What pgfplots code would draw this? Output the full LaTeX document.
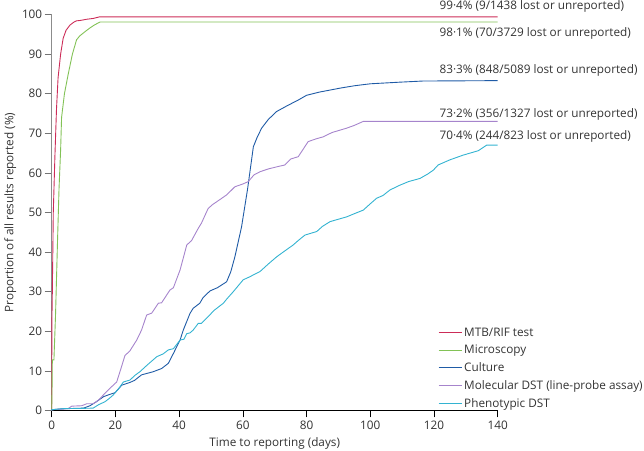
\documentclass[border=0pt]{standalone}
\usepackage{pgfplots}
\pgfplotsset{compat=1.18}
\usepackage{fontspec}
\setmainfont{Open Sans}
\definecolor{cmtb}{HTML}{CC2C58}
\definecolor{cmic}{HTML}{82C256}
\definecolor{ccul}{HTML}{1F5BA6}
\definecolor{cmol}{HTML}{A684CC}
\definecolor{cphe}{HTML}{33B3D1}
\definecolor{txt}{HTML}{333333}
\newcommand\fs{\fontsize{11.8}{14}\selectfont}
\begin{document}
\begin{tikzpicture}
\begin{axis}[
  scale only axis,
  width=446bp, height=396bp,
  xmin=0, xmax=140, ymin=0, ymax=100,
  xtick={0,20,...,140}, ytick={0,10,...,100},
  axis x line*=bottom, axis y line*=left,
  x axis line style={-, black, line width=0.7pt},
  y axis line style={-, gray!90, line width=1.6pt},
  tick align=outside, major tick length=7bp,
  xtick style={black, line width=0.6pt},
  ytick style={gray!90!black, line width=0.6pt},
  minor tick num=0,
  tick label style={font=\fs, text=txt},
  yticklabel style={xshift=1bp},
  /pgf/number format/assume math mode=true,
  xlabel={Time to reporting (days)},
  ylabel={Proportion of all results reported (\%)},
  label style={font=\fs, text=txt},
  xlabel style={yshift=-1pt},
  ylabel style={yshift=-1pt},
  clip=false,
  every axis plot/.append style={line width=0.9pt, no marks},
  legend style={at={(axis cs:120.3,21.9)}, anchor=north west, draw=none, fill=none,
    font=\fs, text=txt, row sep=3.4pt},
  legend cell align=left,
  legend image code/.code={\draw[#1, line width=1.1pt] (0bp,0bp) -- (23bp,0bp);},
]
\addplot[cmtb] coordinates {(0,0) (0.05,22) (0.2,30) (0.5,50) (1,64) (1.5,76) (2,84) (2.8,90) (3.6,94) (4.5,96) (5.7,97.3) (7,98.1) (7.8,98.4) (9,98.5) (11,98.8) (13,99.0) (15,99.4) (140,99.4)};
\addlegendentry{MTB/RIF test}
\addplot[cmic] coordinates {(0,0) (0.1,5) (0.2,12.8) (0.7,12.8) (1.2,24) (1.8,42) (2.3,56) (2.8,65.8) (3.1,74) (4,80) (5.2,85) (6.5,90) (7.8,93.6) (8.8,94.6) (9.9,95.3) (11,96) (12,96.6) (13.5,97.4) (15.2,98.1) (140,98.1)};
\addlegendentry{Microscopy}
\addplot[ccul] coordinates {(0,0) (0,0.2) (3,0.4) (6,0.5) (10,0.6) (12,1.2) (14,2.2) (16.3,3.5) (18,4.0) (19.9,4.5) (22,6.4) (24.6,7.1) (26,7.6) (28.2,9.0) (31.9,9.8) (34.5,10.6) (36.6,11.9) (38.2,14.4) (40.3,17.8) (41.3,20.3) (43.4,24.5) (44.4,25.8) (46.5,27.1) (47.5,28.5) (49.7,30.2) (52,31) (54.9,32.5) (56.2,35) (57.5,38.8) (59.6,46.4) (61.5,56) (63.3,66.6) (64.5,69) (65.9,71.3) (68,73.5) (70.6,75.5) (74,77) (77.4,78.4) (80,79.6) (84,80.4) (90.5,81.4) (95,82) (100,82.5) (109,82.9) (116.5,83.2) (140,83.3)};
\addlegendentry{Culture}
\addplot[cmol] coordinates {(0,0) (0,0.2) (4,0.4) (5.2,0.5) (6.3,1.1) (9.4,1.2) (11,1.7) (13,1.7) (14.5,2.5) (16.2,3.9) (17.5,5) (18.8,6.0) (20.4,7.2) (21.7,10.5) (23,13.9) (24.5,15) (25.6,16.4) (26.7,17.8) (28.2,20.3) (29.8,24.1) (31.4,24.6) (33.5,27.1) (34.5,27.2) (37.1,30.4) (38.2,31.0) (40.3,35.5) (42.4,41.8) (43.9,42.9) (46,46) (47,47.3) (49.1,51) (50.5,52) (53.4,53.6) (55,54.5) (57.5,56.5) (60,57.2) (61.7,57.8) (63.5,59.5) (65.4,60.3) (68,61) (71,61.6) (73.2,62.0) (75,63.5) (77.4,64.1) (80.5,67.9) (83,68.6) (85.2,69.1) (88,70.2) (92.6,71.3) (95,72) (97.8,73.0) (140,73.0)};
\addlegendentry{Molecular DST (line-probe assay)}
\addplot[cphe] coordinates {(0,0) (0,0.2) (4,0.5) (8,0.5) (13,0.6) (14.8,1.5) (16.7,2.2) (18,3) (19.3,3.9) (21,5.5) (22.5,7.2) (24.6,7.7) (26,8.8) (27.7,9.8) (30,11.5) (33,13.6) (35,14.3) (36.6,15.3) (38.2,15.6) (40.3,17.8) (41.5,18) (42.4,19.4) (43.4,19.6) (44.4,20.3) (46,22.0) (47,22.0) (48.1,22.9) (49.1,23.7) (51,25.3) (53.9,27.1) (55,28.2) (57,30) (60.1,33.0) (62,33.7) (65.4,35.1) (68,37) (70.6,38.8) (73,40.2) (75.8,41.8) (77.5,43) (79.5,44.3) (83.2,45.2) (85,46.5) (87.4,47.7) (90,48.3) (92.6,48.9) (95,49.7) (97.8,50.6) (100,52.2) (102,53.6) (104,54.3) (106.2,55.7) (109.3,56.9) (112,57.8) (115.6,58.6) (118,59.7) (119.8,60.7) (121.3,62.0) (125,63.3) (129.2,64.5) (133.9,65.6) (136.5,67.0) (140,67.0)};
\addlegendentry{Phenotypic DST}
\begin{scope}[every node/.style={anchor=west, inner sep=0pt, text=txt, font=\fs}]
\node at (axis cs:121.7,102.0) {99·4\% (9/1438 lost or unreported)};
\node at (axis cs:121.7,95.3) {98·1\% (70/3729 lost or unreported)};
\node at (axis cs:121.7,85.8) {83·3\% (848/5089 lost or unreported)};
\node at (axis cs:121.7,74.8) {73·2\% (356/1327 lost or unreported)};
\node at (axis cs:121.7,69.1) {70·4\% (244/823 lost or unreported)};
\end{scope}
\end{axis}
\pgfresetboundingbox
\useasboundingbox (-51.7bp,-40.5bp) rectangle (592.3bp,410.5bp);
\end{tikzpicture}
\end{document}
